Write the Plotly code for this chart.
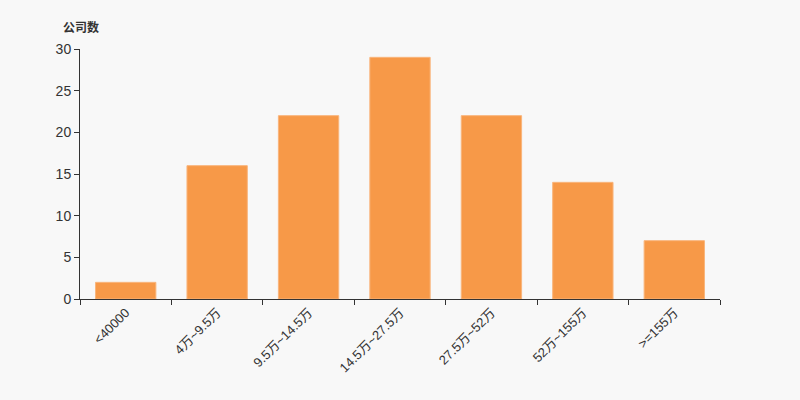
import plotly.graph_objects as go

categories = ["<40000", "4万~9.5万", "9.5万~14.5万", "14.5万~27.5万", "27.5万~52万", "52万~155万", ">=155万"]
counts = [2, 16, 22, 29, 22, 14, 7]
y_ticks = [0, 5, 10, 15, 20, 25, 30]

fig = go.Figure(go.Bar(
    x=categories, y=counts,
    marker=dict(color="#f79948", line=dict(color="#f9b57c", width=1)),
))

font_family = "Liberation Sans, Arial, Noto Sans CJK SC, sans-serif"
fig.update_layout(
    width=800, height=400,
    margin=dict(l=80, r=80, t=49, b=101),
    paper_bgcolor="#f8f8f8", plot_bgcolor="#f8f8f8",
    bargap=0.34,
    showlegend=False,
    font=dict(family=font_family, size=13, color="#333333"),
    xaxis=dict(
        type="category", tickangle=-45, showgrid=False,
        showline=True, linecolor="#333333", linewidth=1,
        ticks="outside", tickson="boundaries", ticklen=5, tickcolor="#333333",
        tickfont=dict(size=13, color="#333333"),
    ),
    yaxis=dict(
        range=[0, 30], tickvals=y_ticks, showgrid=False, zeroline=False,
        showline=True, linecolor="#333333", linewidth=1,
        ticks="outside", ticklen=5, tickcolor="#333333",
        tickfont=dict(size=14, color="#333333"),
    ),
    annotations=[dict(
        text="<b>公司数</b>", xref="paper", yref="paper",
        x=-0.03, y=1.0, yshift=22, xanchor="left", yanchor="middle",
        showarrow=False, font=dict(size=12, color="#333333", family=font_family),
    )],
)

fig.write_html(
    "out.html",
    config={"displayModeBar": False},
    post_script="document.body.style.margin='0';document.body.style.background='#f8f8f8';",
)
